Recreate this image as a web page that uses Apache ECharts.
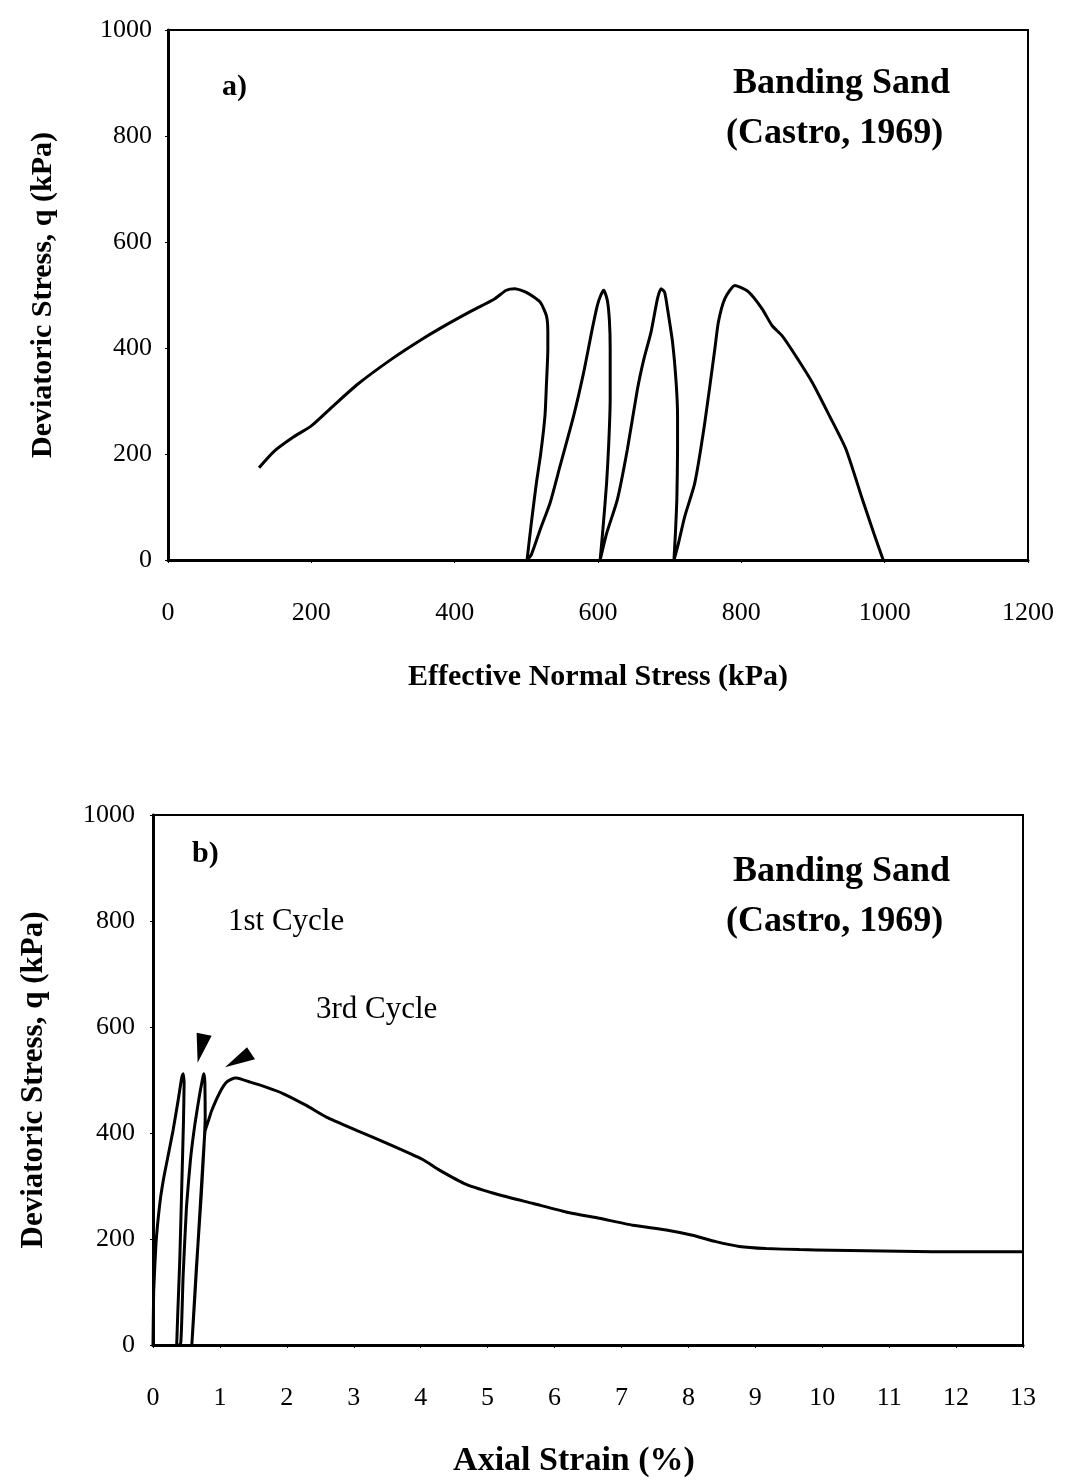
<!DOCTYPE html>
<html>
<head>
<meta charset="utf-8">
<style>
  html, body { margin: 0; padding: 0; background: #fff; }
  #chart { width: 1065px; height: 1480px; }
</style>
<script src="https://cdn.jsdelivr.net/npm/echarts@6/dist/echarts.min.js"></script>
</head>
<body>
<div id="chart"></div>
<script>
// Stress path: effective normal stress (kPa) and deviatoric stress q (kPa), one line per loading loop
const stressPathP = [
  127, 148, 175, 200, 230, 265, 312, 355, 390, 425, 455, 472, 484, 500, 519, 528, 530, 530, 528, 526, 520, 514, 507, 501,
  507, 520, 533, 547, 566, 580, 592, 599, 604, 608, 613, 616, 617, 617, 615, 612, 607, 603,
  612, 627, 641, 655, 664, 674, 683, 688, 693, 697, 704, 709, 711, 711, 710, 708, 706,
  712, 721, 735, 749, 763, 768, 777, 791, 810, 829, 843, 857, 876, 899, 923, 946, 969, 985, 998];
const stressPathQ = [
  174, 205, 232, 253, 290, 332, 379, 417, 445, 471, 492, 509, 512, 505, 487, 461, 430, 398, 330, 272, 200, 145, 70, 0,
  10, 60, 107, 177, 272, 354, 436, 480, 500, 509, 490, 450, 398, 303, 220, 145, 60, 0,
  50, 114, 209, 322, 379, 430, 493, 512, 505, 474, 411, 335, 272, 209, 114, 50, 0,
  30, 82, 145, 259, 398, 449, 493, 518, 506, 474, 442, 423, 385, 335, 272, 209, 114, 50, 0];

// Stress–strain curve: axial strain (%) and deviatoric stress q (kPa)
const strainPct = [
  0, 0.01, 0.045, 0.1, 0.154, 0.23, 0.30, 0.38, 0.43, 0.45, 0.465, 0.455, 0.43, 0.40, 0.37, 0.354,
  0.41, 0.45, 0.50, 0.56, 0.63, 0.70, 0.745, 0.76, 0.775, 0.78, 0.72, 0.65, 0.58,
  0.62, 0.70, 0.776, 0.82, 0.876, 1.0, 1.1, 1.22, 1.25, 1.45, 1.70, 1.95, 2.29, 2.59, 3.04, 3.54, 4.03, 4.28,
  4.68, 5.18, 5.68, 6.17, 6.67, 7.17, 7.67, 8.06, 8.41, 8.76, 9.16, 9.66, 10.15, 11.65, 13];
const strainQ = [
  0, 100, 192, 265, 311, 360, 405, 465, 505, 512, 495, 420, 300, 160, 60, 0,
  0, 130, 260, 350, 420, 475, 505, 512, 495, 430, 280, 150, 0,
  80, 250, 402, 420, 442, 477, 496, 504, 504, 496, 486, 474, 452, 430, 405, 378, 350, 330,
  303, 283, 267, 251, 239, 226, 217, 207, 195, 186, 182, 180, 179, 176, 176];

// Arrowheads pointing at the cycle peaks: [strain %, q kPa]
const arrowHeads = [[0.764, 561], [1.30, 543]];

const xTicksA = [0, 200, 400, 600, 800, 1000, 1200];
const yTicks = [0, 200, 400, 600, 800, 1000];
const xTicksB = [0, 1, 2, 3, 4, 5, 6, 7, 8, 9, 10, 11, 12, 13];

const serif = '"Liberation Serif", "Times New Roman", serif';
const ink = '#000';

function zip(a, b) { return a.map((v, i) => [v, b[i]]); }

function tickLabel(margin) {
  return { color: ink, fontFamily: serif, fontSize: 26, margin: margin, formatter: v => String(v) };
}

function valueAxis(gridIndex, ticks, extra) {
  return Object.assign({
    type: 'value',
    gridIndex: gridIndex,
    min: ticks[0],
    max: ticks[ticks.length - 1],
    interval: ticks[1] - ticks[0],
    axisLine: { show: true, lineStyle: { color: ink, width: 3 } },
    axisTick: { show: true, length: 3, lineStyle: { color: ink, width: 1 } },
    splitLine: { show: false },
    nameTextStyle: { color: ink, fontFamily: serif, fontSize: 30, fontWeight: 'bold' }
  }, extra);
}

const chart = echarts.init(document.getElementById('chart'), null, { renderer: 'canvas' });

const boxStyle = { show: true, borderColor: ink, borderWidth: 2, backgroundColor: 'transparent' };

chart.setOption({
  backgroundColor: '#fff',
  animation: false,
  grid: [
    Object.assign({ left: 168, top: 30, width: 860, height: 530 }, boxStyle),
    Object.assign({ left: 153, top: 815, width: 870, height: 530 }, boxStyle)
  ],
  xAxis: [
    valueAxis(0, xTicksA, {
      name: 'Effective Normal Stress (kPa)', nameLocation: 'middle', nameGap: 102,
      axisLabel: tickLabel(40)
    }),
    valueAxis(1, xTicksB, {
      name: 'Axial Strain (%)', nameLocation: 'middle', nameGap: 99,
      nameTextStyle: { color: ink, fontFamily: serif, fontSize: 34, fontWeight: 'bold', padding: [0, 28, 0, 0] },
      axisLabel: tickLabel(40)
    })
  ],
  yAxis: [
    valueAxis(0, yTicks, {
      name: 'Deviatoric Stress, q (kPa)', nameLocation: 'middle', nameGap: 110,
      axisLabel: tickLabel(16)
    }),
    valueAxis(1, yTicks, {
      name: 'Deviatoric Stress, q (kPa)', nameLocation: 'middle', nameGap: 104,
      nameTextStyle: { color: ink, fontFamily: serif, fontSize: 31, fontWeight: 'bold' },
      axisLabel: tickLabel(18)
    })
  ],
  series: [
    {
      type: 'line', xAxisIndex: 0, yAxisIndex: 0,
      data: zip(stressPathP, stressPathQ),
      showSymbol: false, smooth: 0.2,
      lineStyle: { color: ink, width: 3 }
    },
    {
      type: 'line', xAxisIndex: 1, yAxisIndex: 1,
      data: zip(strainPct, strainQ),
      showSymbol: false, smooth: 0.15,
      lineStyle: { color: ink, width: 3 }
    },
    {
      type: 'scatter', xAxisIndex: 1, yAxisIndex: 1,
      data: [
        { value: arrowHeads[0], symbol: 'path://M0,0 L15,3 L1,30 Z', symbolSize: [15, 30] },
        { value: arrowHeads[1], symbol: 'path://M0,20 L22,0 L30,12 Z', symbolSize: [30, 20] }
      ],
      itemStyle: { color: ink, opacity: 1 },
      silent: true
    }
  ],
  graphic: [
    { type: 'text', left: 222, top: 72, style: { text: 'a)', font: 'bold 30px ' + serif, fill: ink } },
    { type: 'text', left: 733, top: 66, style: { text: 'Banding Sand', font: 'bold 36px ' + serif, fill: ink } },
    { type: 'text', left: 726, top: 116, style: { text: '(Castro, 1969)', font: 'bold 36px ' + serif, fill: ink } },

    { type: 'text', left: 192, top: 839, style: { text: 'b)', font: 'bold 30px ' + serif, fill: ink } },
    { type: 'text', left: 733, top: 854, style: { text: 'Banding Sand', font: 'bold 36px ' + serif, fill: ink } },
    { type: 'text', left: 726, top: 904, style: { text: '(Castro, 1969)', font: 'bold 36px ' + serif, fill: ink } },
    { type: 'text', left: 228, top: 906, style: { text: '1st Cycle', font: '31px ' + serif, fill: ink } },
    { type: 'text', left: 316, top: 994, style: { text: '3rd Cycle', font: '31px ' + serif, fill: ink } }
  ]
});
</script>
</body>
</html>
